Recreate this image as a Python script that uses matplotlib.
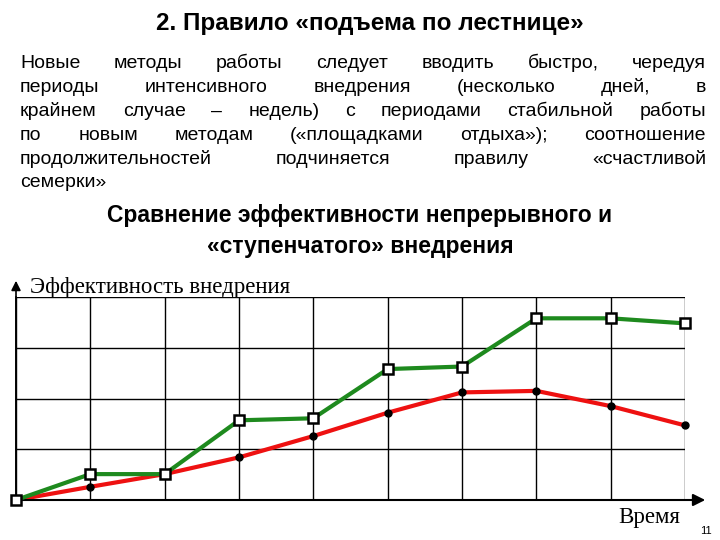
import matplotlib
matplotlib.use("Agg")
import matplotlib.pyplot as plt

x_steps = list(range(10))
green_vals = [0, 0.51, 0.51, 1.57, 1.61, 2.58, 2.63, 3.58, 3.58, 3.48]
red_vals = [0, 0.26, 0.51, 0.84, 1.26, 1.72, 2.12, 2.15, 1.85, 1.47]

title = "2. Правило «подъема по лестнице»"
para_lines = [
    "Новые методы работы следует вводить быстро, чередуя",
    "периоды интенсивного внедрения (несколько дней, в",
    "крайнем случае – недель) с периодами стабильной работы",
    "по новым методам («площадками отдыха»); соотношение",
    "продолжительностей подчиняется правилу «счастливой",
    "семерки»",
]
subtitle = ["Сравнение эффективности непрерывного и", "«ступенчатого» внедрения"]
ylabel = "Эффективность внедрения"
xlabel = "Время"
page = "11"

W, H = 720, 540
fig = plt.figure(figsize=(7.2, 5.4), dpi=100)
fig.patch.set_facecolor("white")
SANS = "Liberation Sans"
SERIF = "Liberation Serif"

def fx(px): return px / W
def fy(py): return 1 - py / H

fig.text(fx(370), fy(30), title, ha="center", va="baseline", fontsize=17.5, fontweight="bold", family=SANS)

renderer = fig.canvas.get_renderer()
left, right = 20, 706
ys = [68, 92, 116, 140, 164, 187]
FS = 14
for i, (line, y) in enumerate(zip(para_lines, ys)):
    words = line.split(" ")
    if i == len(para_lines) - 1:
        fig.text(fx(left), fy(y), line, ha="left", va="baseline", fontsize=FS, family=SANS)
        continue
    texts = [fig.text(0, fy(y), w, ha="left", va="baseline", fontsize=FS, family=SANS) for w in words]
    widths = [t.get_window_extent(renderer).width for t in texts]
    gap = (right - left - sum(widths)) / (len(words) - 1)
    xpos = left
    for t, w in zip(texts, widths):
        t.set_x(fx(xpos))
        xpos += w + gap

for s, y in zip(subtitle, [222, 253]):
    fig.text(fx(360), fy(y), s, ha="center", va="baseline", fontsize=16.5, fontweight="bold", family=SANS)

ax = fig.add_axes([fx(16), fy(500), fx(685 - 16), (500 - 297) / H])
ax.set_xlim(0, 9)
ax.set_ylim(0, 4)
ax.set_xticks(range(10))
ax.set_yticks(range(5))
ax.grid(True, color="black", linewidth=1)
ax.tick_params(length=0, labelbottom=False, labelleft=False)
for sp in ax.spines.values():
    sp.set_visible(False)
ax.spines["left"].set_visible(True)
ax.spines["left"].set_linewidth(1.2)

ax.plot(x_steps, red_vals, color="#ee1111", linewidth=3, zorder=3, clip_on=False)
ax.plot(x_steps, red_vals, "o", color="black", markersize=5, zorder=4, clip_on=False)
ax.plot(x_steps, green_vals, color="#1e8a1e", linewidth=3, zorder=5, clip_on=False,
        marker="s", markersize=7, markerfacecolor="white", markeredgecolor="black", markeredgewidth=1.8)

ax.annotate("", xy=(fx(708), fy(500)), xycoords="figure fraction", xytext=(fx(16), fy(500)),
            arrowprops=dict(arrowstyle="-|>", color="black", lw=1.5, mutation_scale=18))
ax.annotate("", xy=(fx(16), fy(278)), xycoords="figure fraction", xytext=(fx(16), fy(500)),
            arrowprops=dict(arrowstyle="-|>", color="black", lw=1.2, mutation_scale=14))

fig.text(fx(30), fy(288), ylabel, ha="left", va="center", fontsize=16.5, family=SERIF)
fig.text(fx(680), fy(517), xlabel, ha="right", va="center", fontsize=16.5, family=SERIF)
fig.text(fx(712), fy(531), page, ha="right", va="center", fontsize=8, family=SANS)

fig.savefig("out.png", dpi=100)
